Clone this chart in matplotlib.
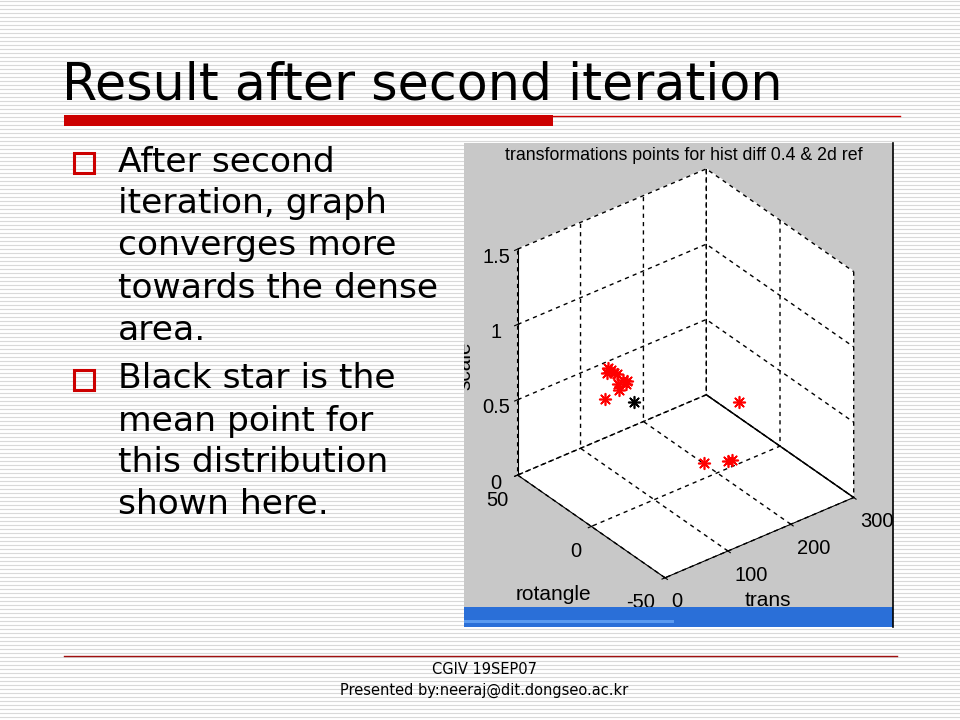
import matplotlib
matplotlib.use('Agg')
import matplotlib.pyplot as plt
from matplotlib.patches import Rectangle
from matplotlib.transforms import Bbox, TransformedBbox

# slide text
title = 'Result after second iteration'
bullets = [
    ['After second', 'iteration, graph', 'converges more', 'towards the dense', 'area.'],
    ['Black star is the', 'mean point for', 'this distribution', 'shown here.'],
]
footer = ['CGIV 19SEP07', 'Presented by:neeraj@dit.dongseo.ac.kr']

# plot data
plot_title = 'transformations points for hist diff 0.4 & 2d ref'
trans = [88, 92, 95, 98, 90, 100, 96, 93, 86, 99, 87, 162, 210, 214, 216]
rotangle = [24, 22, 25, 20, 27, 19, 23, 21, 26, 18, 28, -7, -3, -4, -8]
scale = [0.72, 0.70, 0.68, 0.66, 0.71, 0.64, 0.62, 0.60, 0.69, 0.67, 0.50, 0.18, 0.08, 0.09, 0.50]
mean_point = (100, 14, 0.55)

trans_ticks = [0, 100, 200, 300]
rot_ticks = [-50, 0, 50]
scale_ticks = [0, 0.5, 1, 1.5]
scale_ticklabels = ['0', '0.5', '1', '1.5']

plt.rcParams['axes.unicode_minus'] = False

fig = plt.figure(figsize=(9.6, 7.2), dpi=100)
bg = fig.add_axes([0, 0, 1, 1])
bg.set_xlim(0, 960)
bg.set_ylim(720, 0)
bg.axis('off')

# striped background
for y in range(1, 720, 4):
    bg.axhline(y, color='#d9d9d9', lw=0.8, zorder=0)

bg.text(62, 100, title, fontsize=36.5, family='DejaVu Sans', va='baseline')
bg.add_patch(Rectangle((64, 115), 489, 11, color='#cc0000', lw=0))
bg.plot([553, 900], [115.5, 115.5], color='#cc0000', lw=1)

y = 162
for lines in bullets:
    bg.add_patch(Rectangle((74, y - 9), 20, 20, fill=False, ec='#cc0000', lw=2.2))
    for ln in lines:
        bg.text(118, y, ln, fontsize=24.8, family='DejaVu Sans', va='center')
        y += 42
    y += 7

bg.plot([64, 897], [656, 656], color='#a01010', lw=1)
bg.text(484, 670, footer[0], fontsize=10.5, ha='center', va='center', family='DejaVu Sans')
bg.text(484, 690, footer[1], fontsize=10.5, ha='center', va='center', family='DejaVu Sans')

# screenshot region with grey figure background
bg.add_patch(Rectangle((464, 143), 429, 484, color='#c8c8c8', lw=0, zorder=2))

plt.rcParams['font.family'] = ['Liberation Sans']
ax = fig.add_axes([470 / 960, 1 - 604 / 720, 420 / 960, 450 / 720], projection='3d',
                  proj_type='ortho')
ax.set_box_aspect((4, 4, 4.5))
ax.set_facecolor('none')
ax.patch.set_alpha(0)
for a in (ax.xaxis, ax.yaxis, ax.zaxis):
    a.set_pane_color((1, 1, 1, 1))
    a._axinfo['grid'].update(color='k', linestyle=(0, (3, 3)), linewidth=1.0)
    a.line.set_color('k')
ax.scatter(trans, rotangle, scale, marker=(8, 2, 0), c='red', s=70, linewidths=1.2,
           depthshade=False)
ax.scatter([mean_point[0]], [mean_point[1]], [mean_point[2]], marker=(8, 2, 0), c='k',
           s=70, linewidths=1.2, depthshade=False)
ax.plot([300, 300], [50, -50], [0, 0], color='k', lw=1)
ax.set_xlim(0, 300)
ax.set_ylim(-50, 50)
ax.set_zlim(0, 1.5)
ax.set_xticks(trans_ticks)
ax.set_yticks(rot_ticks)
ax.set_zticks(scale_ticks)
ax.set_zticklabels(scale_ticklabels)
ax.tick_params(labelsize=14.5)
ax.xaxis.set_tick_params(pad=-1)
ax.yaxis.set_tick_params(pad=0)
ax.zaxis.set_tick_params(pad=2)
for tk in ax.xaxis.get_major_ticks():
    tk.label1.set_horizontalalignment('left')
for tk in ax.yaxis.get_major_ticks():
    tk.label1.set_horizontalalignment('right')
ax.view_init(elev=33, azim=-128)

# overlay: clipped title, axis labels and taskbar strip
top = fig.add_axes([0, 0, 1, 1], zorder=10)
top.set_xlim(0, 960)
top.set_ylim(720, 0)
top.axis('off')
clipbox = TransformedBbox(Bbox.from_extents(464, 143, 893, 627), top.transData)
t = top.text(684, 155, plot_title, fontsize=12.8, ha='center', va='center')
t.set_clip_box(clipbox)
t.set_clip_on(True)
top.text(553, 595, 'rotangle', fontsize=15, ha='center', va='center')
top.text(768, 601, 'trans', fontsize=15, ha='center', va='center')
s = top.text(465, 366, 'scale', fontsize=15, ha='center', va='center', rotation=90)
s.set_clip_box(clipbox)
s.set_clip_on(True)
top.add_patch(Rectangle((464, 607), 429, 20, color='#2a6fd8', lw=0))
top.add_patch(Rectangle((464, 620), 210, 3, color='#5a9af0', lw=0))
top.plot([893, 893], [143, 627], color='k', lw=1.2)

fig.savefig('out.png', dpi=100)
